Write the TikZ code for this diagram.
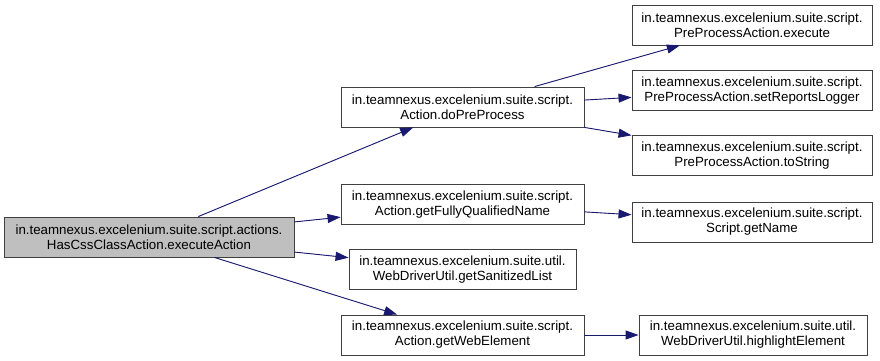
\documentclass[tikz,border=0pt]{standalone}
\usepackage{fontspec}
\setmainfont{Liberation Sans}
\usetikzlibrary{arrows.meta}
\definecolor{edgeblue}{RGB}{25,25,112}
\definecolor{rootgray}{RGB}{191,191,191}
\begin{document}
\begin{tikzpicture}[x=1pt,y=-1pt,every node/.style={font=\fontsize{13.3}{15}\selectfont}]
    \tikzset{
      func/.style={draw=black!75,fill=white,line width=0.9pt,align=center,minimum height=40,inner sep=2pt},
      call/.style={-{Triangle[length=13pt,width=9pt]},draw=edgeblue,fill=edgeblue,line width=0.9pt}
    }
    \useasboundingbox (0,0) rectangle (880,361);

    % caller
    \node[func,fill=rootgray,minimum width=290] (root) at (149,237)
      {in.teamnexus.excelenium.suite.script.actions.\\HasCssClassAction.executeAction};

    % direct callees
    \node[func,minimum width=243] (pre) at (462.5,107)
      {in.teamnexus.excelenium.suite.script.\\Action.doPreProcess};
    \node[func,minimum width=243] (fqn) at (462.5,204.5)
      {in.teamnexus.excelenium.suite.script.\\Action.getFullyQualifiedName};
    \node[func,minimum width=227] (san) at (462.5,269.5)
      {in.teamnexus.excelenium.suite.util.\\WebDriverUtil.getSanitizedList};
    \node[func,minimum width=243] (web) at (462.5,335)
      {in.teamnexus.excelenium.suite.script.\\Action.getWebElement};

    % second level
    \node[func,minimum width=240] (exe) at (752,25)
      {in.teamnexus.excelenium.suite.script.\\PreProcessAction.execute};
    \node[func,minimum width=240] (rep) at (752,90.5)
      {in.teamnexus.excelenium.suite.script.\\PreProcessAction.setReportsLogger};
    \node[func,minimum width=240] (str) at (752,155.5)
      {in.teamnexus.excelenium.suite.script.\\PreProcessAction.toString};
    \node[func,minimum width=240] (name) at (752,222)
      {in.teamnexus.excelenium.suite.script.\\Script.getName};
    \node[func,minimum width=228] (hil) at (753,335)
      {in.teamnexus.excelenium.suite.util.\\WebDriverUtil.highlightElement};

    \draw[call] (root) -- (pre);
    \draw[call] (root) -- (fqn);
    \draw[call] (root) -- (san);
    \draw[call] (root) -- (web);
    \draw[call] (pre) -- (exe);
    \draw[call] (pre) -- (rep);
    \draw[call] (pre) -- (str);
    \draw[call] (fqn) -- (name);
    \draw[call] (web) -- (hil);
  \end{tikzpicture}
\end{document}
